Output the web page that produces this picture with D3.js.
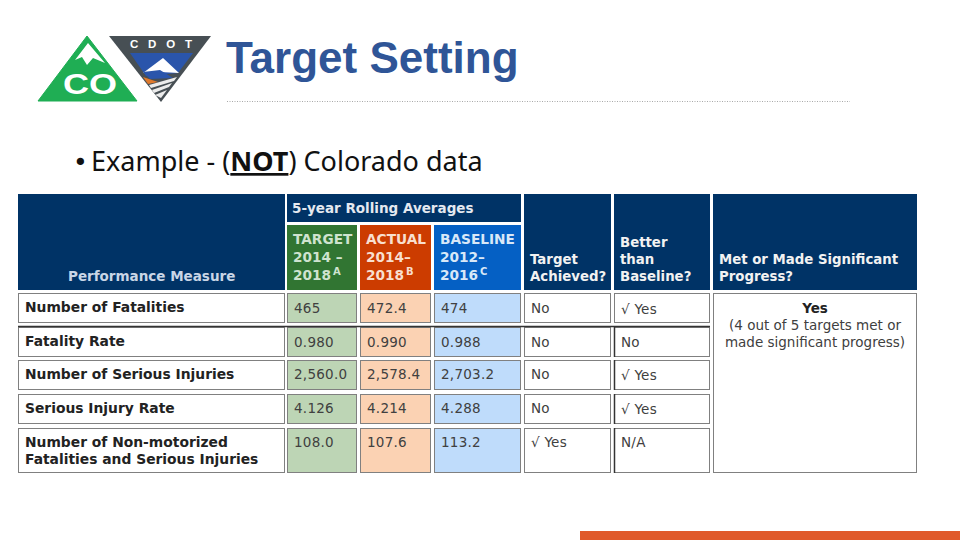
<!DOCTYPE html>
<html>
<head>
<meta charset="utf-8">
<script src="https://cdn.jsdelivr.net/npm/d3@7"></script>
<style>
body { margin: 0; background: #fff; }
svg { display: block; }
text { font-family: "DejaVu Sans", sans-serif; }
</style>
</head>
<body>
<svg id="slide" width="960" height="540"></svg>
<script>
// table content
const measures = ["Number of Fatalities", "Fatality Rate", "Number of Serious Injuries", "Serious Injury Rate", "Number of Non-motorized|Fatalities and Serious Injuries"];
const targets = ["465", "0.980", "2,560.0", "4.126", "108.0"];
const actuals = ["472.4", "0.990", "2,578.4", "4.214", "107.6"];
const baselines = ["474", "0.988", "2,703.2", "4.288", "113.2"];
const achieved = ["No", "No", "No", "No", "√ Yes"];
const betterThan = ["√ Yes", "No", "√ Yes", "√ Yes", "N/A"];
const columns = ["measure", "target", "actual", "baseline", "achieved", "better", "met"];

const svg = d3.select("#slide");

// column and row edges, measured off the slide
const colLeft = d3.scaleOrdinal().domain(columns).range([18, 287, 360, 434, 524, 614, 713]);
const colRight = d3.scaleOrdinal().domain(columns).range([285, 357, 431, 521, 611, 710, 917]);
const rowTop = d3.scaleOrdinal().domain(measures).range([293, 327, 360, 394, 428]);
const rowBottom = d3.scaleOrdinal().domain(measures).range([323, 357, 390, 424, 473]);
const valueY = d3.scaleOrdinal().domain(measures).range([313, 347, 379, 413, 447]);

const navy = "#003366", border = "#808080", ink = "#404040";

function box(col, y0, y1, fill, stroke) {
    svg.append("rect")
        .attr("x", colLeft(col) + 0.5).attr("y", y0 + 0.5)
        .attr("width", colRight(col) - colLeft(col) - 1).attr("height", y1 - y0 - 1)
        .attr("fill", fill).attr("stroke", stroke || border);
}

function label(x, y, str, opts) {
    opts = opts || {};
    return svg.append("text").attr("x", x).attr("y", y).text(str)
        .attr("font-size", opts.size || 13.5)
        .attr("font-weight", opts.bold ? "bold" : "normal")
        .attr("fill", opts.fill || ink)
        .attr("letter-spacing", opts.spacing || 0)
        .attr("text-anchor", opts.anchor || "start");
}

// logo
const logo = svg.append("g");
logo.append("path").attr("d", "M87 36 L38 101 L137 101 Z").attr("fill", "#1fae54").attr("stroke", "#1fae54").attr("stroke-linejoin", "round");
logo.append("path").attr("d", "M88 43 L75 60 L82 57 L87 65 L93 58 L105 63 Z").attr("fill", "#fff");
logo.append("path").attr("d", "M109 36 L211 36 L161 102 Z").attr("fill", "#474f54");
logo.append("path").attr("d", "M130 53 L193 53 L178 73 L146 76 Z").attr("fill", "#2a55ab");
logo.append("path").attr("d", "M143 73 L163 58 L179 73 L160 72 Z").attr("fill", "#fff");
logo.append("path").attr("d", "M143 72 L160 70 L173 78 L150 79 Z").attr("fill", "#2a55ab");
logo.append("path").attr("d", "M143 77 L158 82 L148 84 Z").attr("fill", "#e07a2c");
logo.append("path").attr("d", "M149 85 L177 77 L174 81 L151 88 Z M152 90 L172 83 L169 87 L154 93 Z M155 95 L167 90 L161 98 Z").attr("fill", "#ececec");
logo.append("text").attr("x", 63).attr("y", 94).style("font-family", "'Liberation Sans', sans-serif")
    .attr("font-size", 29).attr("font-weight", "bold").attr("fill", "#fff")
    .attr("textLength", 54).attr("lengthAdjust", "spacingAndGlyphs").text("CO");
logo.append("text").attr("x", 130).attr("y", 48).style("font-family", "'Liberation Sans', sans-serif")
    .attr("font-size", 11.5).attr("font-weight", "bold").attr("fill", "#fff")
    .attr("textLength", 62).text("CDOT");

// title and rule
svg.append("text").attr("x", 226).attr("y", 73).text("Target Setting")
    .style("font-family", "'Liberation Sans', sans-serif")
    .attr("font-size", 44).attr("font-weight", "bold").attr("fill", "#2f5597");
svg.append("line").attr("x1", 227).attr("x2", 850).attr("y1", 101.5).attr("y2", 101.5)
    .attr("stroke", "#a8a8a8").attr("stroke-dasharray", "1 1.5");

// bullet line
svg.append("text").attr("x", 73).attr("y", 171).attr("font-size", 25).attr("fill", "#111").text("•");
const bullet = svg.append("text").attr("x", 91).attr("y", 171).attr("font-size", 27).attr("fill", "#111")
    .style("font-family", "'Noto Sans', sans-serif");
bullet.append("tspan").text("Example - (");
bullet.append("tspan").attr("font-weight", "bold").attr("text-decoration", "underline").text("NOT");
bullet.append("tspan").text(") Colorado data");

// header blocks
box("measure", 194, 290, navy, navy);
box("achieved", 194, 290, navy, navy);
box("better", 194, 290, navy, navy);
box("met", 194, 290, navy, navy);
svg.append("rect").attr("x", colLeft("target")).attr("y", 194)
    .attr("width", colRight("baseline") - colLeft("target")).attr("height", 28).attr("fill", navy);
box("target", 225, 290, "#317532", "#317532");
box("actual", 225, 290, "#cc3c00", "#cc3c00");
box("baseline", 225, 290, "#0560c4", "#0560c4");

const white = {bold: true, fill: "#f2f2f2", size: 13.3};
label(68, 281, "Performance Measure", {bold: true, fill: "#c9d6e6"});
label(292, 213, "5-year Rolling Averages", {bold: true, fill: "#e4e9f0"});

const headLines = [
    ["target", ["TARGET", "2014 –", "2018"], "A", "#cfe3cf"],
    ["actual", ["ACTUAL", "2014–", "2018"], "B", "#f8dfcf"],
    ["baseline", ["BASELINE", "2012–", "2016"], "C", "#d8e8f8"]
];
headLines.forEach(h => {
    h[1].forEach((str, i) => {
        label(colLeft(h[0]) + 6, 244 + i * 18, str, {bold: true, fill: h[3], size: 13.7});
    });
    label(colLeft(h[0]) + 46, 275, h[2], {bold: true, fill: h[3], size: 10});
});

label(530, 264, "Target", white);
label(530, 281, "Achieved?", white);
label(620, 247, "Better", white);
label(620, 264, "than", white);
label(620, 281, "Baseline?", white);
label(719, 264, "Met or Made Significant", white);
label(719, 281, "Progress?", white);

// data rows
measures.forEach((m, i) => {
    const top = rowTop(m), bottom = rowBottom(m), base = valueY(m);
    box("measure", top, bottom, "#fff");
    box("target", top, bottom, "#bdd5b5");
    box("actual", top, bottom, "#fbd2b3");
    box("baseline", top, bottom, "#bfdcfb");
    box("achieved", top, bottom, "#fff");
    box("better", top, bottom, "#fff");

    m.split("|").forEach((str, j) => {
        label(25, top + 19 + j * 17, str, {bold: true, fill: "#222", size: 13.85});
    });
    const thin = {spacing: 0.25};
    label(294, base, targets[i], thin);
    label(367, base, actuals[i], thin);
    label(441, base, baselines[i], thin);
    label(531, base, achieved[i], thin);
    label(621, base + (betterThan[i].includes("Yes") && i < 4 ? 1 : 0), betterThan[i], thin);
});

// darker seams in the screenshot: top of the Fatality Rate row, left of the Better column
svg.append("line").attr("x1", colLeft("measure")).attr("x2", colRight("better"))
    .attr("y1", rowTop(measures[1]) - 0.5).attr("y2", rowTop(measures[1]) - 0.5)
    .attr("stroke", "#333").attr("stroke-width", 1.5);
measures.slice(1).forEach(m => {
    svg.append("line").attr("x1", colLeft("better") + 0.5).attr("x2", colLeft("better") + 0.5)
        .attr("y1", rowTop(m)).attr("y2", rowBottom(m))
        .attr("stroke", "#333").attr("stroke-width", 1.5);
});

// merged last column
box("met", 293, 473, "#fff");
const metMid = (colLeft("met") + colRight("met")) / 2;
label(metMid, 313, "Yes", {bold: true, fill: "#222", anchor: "middle"});
label(metMid, 330, "(4 out of 5 targets met or", {anchor: "middle"});
label(metMid, 347, "made significant progress)", {anchor: "middle"});

// footer accent
svg.append("rect").attr("x", 580).attr("y", 531).attr("width", 380).attr("height", 9).attr("fill", "#e05a2b");
</script>
</body>
</html>
